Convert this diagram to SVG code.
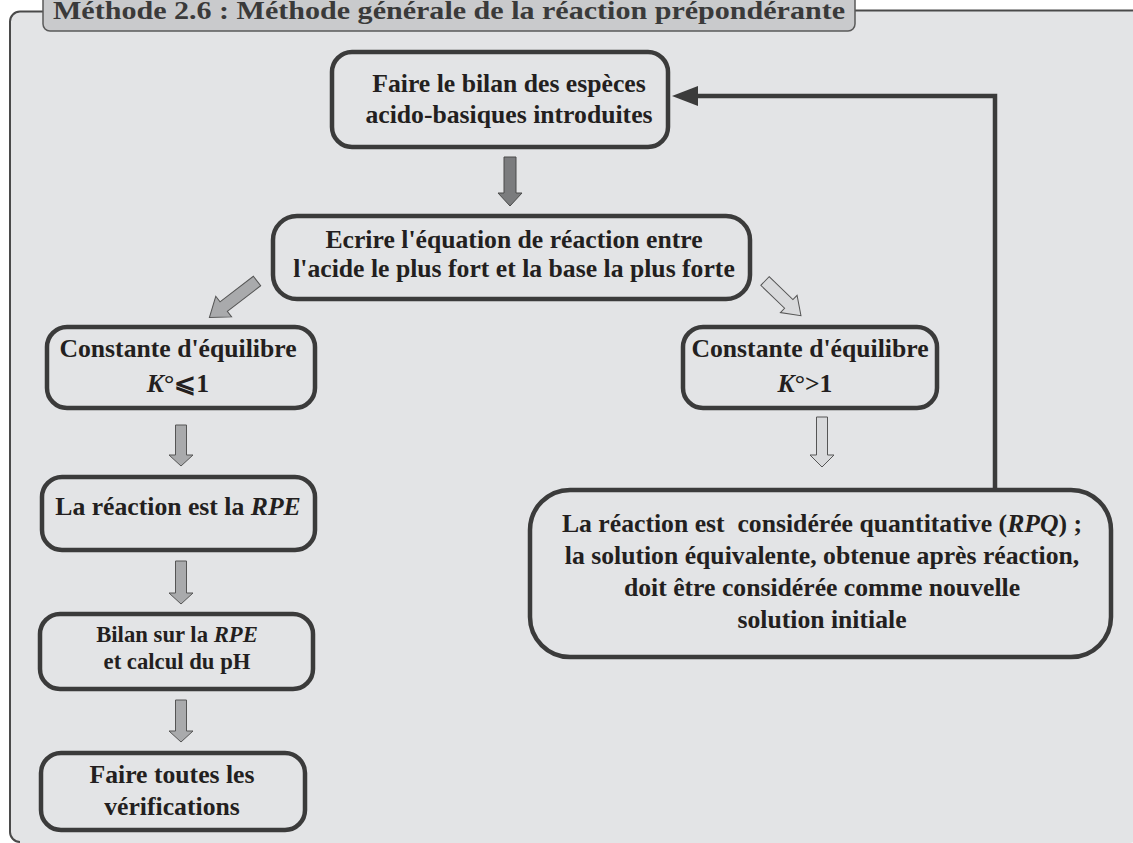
<svg xmlns="http://www.w3.org/2000/svg" width="1133" height="843" viewBox="0 0 1133 843">
  <style>
    .panel { fill: #e3e4e6; }
    .frame { fill: none; stroke: #4a4a4a; stroke-width: 2; }
    .tab { fill: #c9cacc; stroke: #5a5a5a; stroke-width: 1.5; }
    .title { font-family: "Liberation Serif", "DejaVu Serif", serif; font-weight: bold; font-size: 26px; fill: #3a3a3a; }
    .box { fill: none; stroke: #3b3b3b; stroke-width: 4.5; }
    .lbl { font-family: "Liberation Serif", "DejaVu Serif", serif; font-weight: bold; font-size: 25.7px; fill: #231f20; text-anchor: middle; white-space: pre; }
    .sm { font-size: 22.7px; }
    .it { font-style: italic; }
    .arDark { fill: #7b7c7e; stroke: #4a4a4a; stroke-width: 1; }
    .arMid { fill: #a9aaac; stroke: #555555; stroke-width: 1; }
    .arLight { fill: #d9dadc; stroke: #555555; stroke-width: 1; }
    .link { fill: none; stroke: #3b3b3b; stroke-width: 4.5; }
    .linkHead { fill: #3b3b3b; }
  </style>

  <!-- panel background and frame -->
  <rect class="panel" x="10" y="11" width="1130" height="832" rx="10"/>
  <path class="frame" d="M 43 11.5 H 20 A 10 10 0 0 0 10 21.5 V 832 A 10 10 0 0 0 20 842"/>
  <path class="frame" d="M 855 10.5 H 1133"/>

  <!-- title tab -->
  <g id="title">
    <rect class="tab" x="43" y="-10" width="812" height="41" rx="7"/>
    <text class="title" x="53" y="19" textLength="792" lengthAdjust="spacingAndGlyphs">Méthode 2.6 : Méthode générale de la réaction prépondérante</text>
  </g>

  <!-- connectors -->
  <g id="connectors">
    <polygon class="arDark" points="504,157 516,157 516,193 522,193 510,206 498,193 504,193"/>
    <polygon class="arMid" transform="translate(257,281) rotate(142.5)" points="0,-6 42,-6 42,-13 60,0 42,13 42,6 0,6"/>
    <polygon class="arLight" transform="translate(765,281) rotate(44)" points="0,-6 33,-6 33,-12 50,0 33,12 33,6 0,6"/>
    <polygon class="arMid" points="175.5,425 186.5,425 186.5,455 193,455 181,466 169,455 175.5,455"/>
    <polygon class="arMid" points="175.5,561 186.5,561 186.5,593 193,593 181,604 169,593 175.5,593"/>
    <polygon class="arMid" points="175.5,700 186.5,700 186.5,731 193,731 181,742 169,731 175.5,731"/>
    <polygon class="arLight" points="816.5,417 827.5,417 827.5,455 834,455 822,467 810,455 816.5,455"/>
    <path class="link" d="M 995 490 V 96 H 696"/>
    <polygon class="linkHead" points="672,96 698,86 698,106"/>
  </g>

  <g id="n-bilan">
    <rect class="box" x="332" y="52" width="336" height="95" rx="20"/>
    <text class="lbl" x="509" y="92">Faire le bilan des espèces</text>
    <text class="lbl" x="509" y="123">acido-basiques introduites</text>
  </g>

  <g id="n-equation">
    <rect class="box" x="273" y="216" width="477" height="83" rx="24"/>
    <text class="lbl" x="514" y="248">Ecrire l'équation de réaction entre</text>
    <text class="lbl" x="514" y="277">l'acide le plus fort et la base la plus forte</text>
  </g>

  <g id="n-k-small">
    <rect class="box" x="47" y="327" width="268" height="81" rx="20"/>
    <text class="lbl" x="178" y="357">Constante d'équilibre</text>
    <text class="lbl" x="178" y="392"><tspan class="it">K</tspan>°⩽1</text>
  </g>

  <g id="n-k-large">
    <rect class="box" x="683" y="327" width="254" height="81" rx="20"/>
    <text class="lbl" x="810" y="357">Constante d'équilibre</text>
    <text class="lbl" x="805" y="392"><tspan class="it">K</tspan>°&gt;1</text>
  </g>

  <g id="n-rpe">
    <rect class="box" x="42" y="477" width="273" height="73" rx="20"/>
    <text class="lbl" x="178" y="515">La réaction est la <tspan class="it">RPE</tspan></text>
  </g>

  <g id="n-calcul">
    <rect class="box" x="40" y="614" width="273" height="75" rx="20"/>
    <text class="lbl sm" x="177" y="642">Bilan sur la <tspan class="it">RPE</tspan></text>
    <text class="lbl sm" x="177" y="669">et calcul du pH</text>
  </g>

  <g id="n-verif">
    <rect class="box" x="41" y="753" width="264" height="77" rx="20"/>
    <text class="lbl" x="172" y="783">Faire toutes les</text>
    <text class="lbl" x="172" y="815">vérifications</text>
  </g>

  <g id="n-rpq">
    <rect class="box" x="530" y="490" width="581" height="167" rx="40"/>
    <text class="lbl" x="822" y="532">La réaction est  considérée quantitative (<tspan class="it">RPQ</tspan>) ;</text>
    <text class="lbl" x="822" y="564">la solution équivalente, obtenue après réaction,</text>
    <text class="lbl" x="822" y="596">doit être considérée comme nouvelle</text>
    <text class="lbl" x="822" y="628">solution initiale</text>
  </g>
</svg>
